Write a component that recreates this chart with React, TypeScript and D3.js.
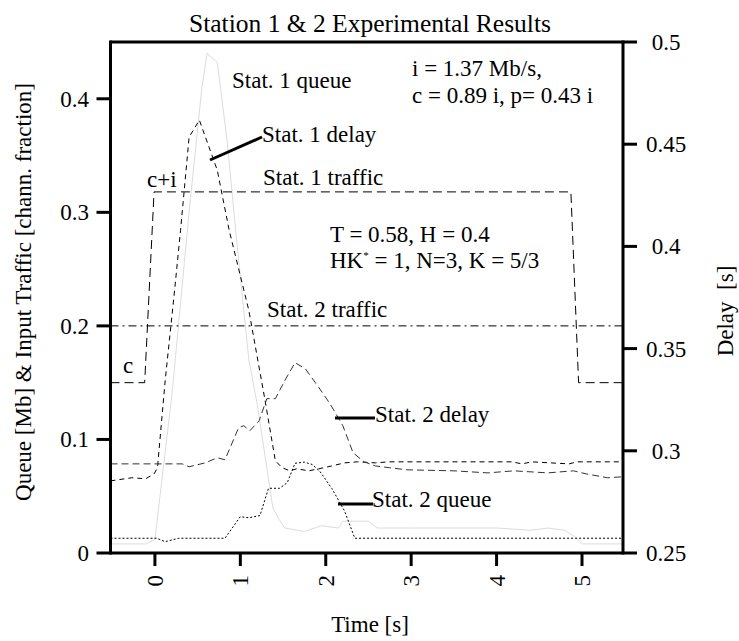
import React from "react";
import * as d3 from "d3";

// ---- data ----
const timeTicks = [0, 1, 2, 3, 4, 5];
const leftTicks = [0, 0.1, 0.2, 0.3, 0.4];
const leftTickLabels = ["0", "0.1", "0.2", "0.3", "0.4"];
const rightTicks = [0.25, 0.3, 0.35, 0.4, 0.45, 0.5];
const rightTickLabels = ["0.25", "0.3", "0.35", "0.4", "0.45", "0.5"];

const stat1TrafficT = [-0.52, -0.12, -0.01, 4.87, 4.96, 5.48];
const stat1TrafficV = [0.15, 0.15, 0.318, 0.318, 0.15, 0.15];

const stat2TrafficT = [-0.52, 5.48];
const stat2TrafficV = [0.2, 0.2];

const stat1QueueT = [-0.52, -0.1, 0.0, 0.2, 0.4, 0.55, 0.61, 0.73, 0.85, 0.95, 1.1, 1.2, 1.3, 1.38, 1.45, 1.52, 1.75, 1.95, 2.15, 2.2, 2.5, 2.6, 3.0, 3.5, 4.0, 4.4, 4.6, 4.8, 4.92, 5.0, 5.48];
const stat1QueueV = [0.008, 0.008, 0.012, 0.14, 0.3, 0.41, 0.44, 0.432, 0.36, 0.28, 0.17, 0.13, 0.08, 0.04, 0.03, 0.022, 0.019, 0.024, 0.022, 0.028, 0.028, 0.022, 0.022, 0.022, 0.022, 0.02, 0.022, 0.02, 0.014, 0.008, 0.008];

const stat2QueueT = [-0.52, 0.02, 0.12, 0.28, 0.82, 1.0, 1.1, 1.23, 1.33, 1.46, 1.55, 1.64, 1.75, 1.84, 1.93, 2.07, 2.22, 2.34, 5.48];
const stat2QueueV = [0.013, 0.013, 0.01, 0.013, 0.013, 0.032, 0.031, 0.033, 0.057, 0.057, 0.062, 0.079, 0.08, 0.078, 0.072, 0.057, 0.037, 0.013, 0.013];

const stat1DelayT = [-0.52, -0.27, -0.11, -0.01, 0.03, 0.12, 0.23, 0.3, 0.4, 0.52, 0.73, 0.87, 1.1, 1.29, 1.41, 1.49, 1.58, 1.66, 1.8, 1.92, 2.07, 2.22, 2.37, 2.58, 2.74, 4.18, 4.3, 4.41, 4.85, 4.94, 5.48];
const stat1DelayD = [0.2853, 0.2868, 0.2863, 0.2887, 0.2917, 0.3343, 0.3784, 0.4078, 0.4534, 0.4618, 0.4373, 0.4078, 0.3686, 0.3245, 0.2951, 0.2917, 0.2902, 0.2912, 0.2902, 0.2912, 0.2926, 0.2941, 0.2946, 0.2941, 0.2946, 0.2946, 0.2936, 0.2946, 0.2936, 0.2946, 0.2946];

const stat2DelayT = [-0.52, 0.32, 0.4, 0.59, 0.73, 0.82, 0.98, 1.04, 1.11, 1.22, 1.31, 1.41, 1.52, 1.64, 1.76, 1.92, 2.05, 2.2, 2.32, 2.45, 2.58, 2.75, 2.95, 3.5, 3.9, 4.2, 4.6, 4.9, 5.05, 5.3, 5.48];
const stat2DelayD = [0.2936, 0.2936, 0.2922, 0.2941, 0.2966, 0.2956, 0.3113, 0.3123, 0.3098, 0.3147, 0.3255, 0.3255, 0.3343, 0.3431, 0.3402, 0.3309, 0.323, 0.3123, 0.299, 0.2946, 0.2926, 0.2917, 0.2907, 0.2902, 0.2892, 0.2902, 0.2892, 0.2902, 0.2887, 0.2868, 0.2873];

// ---- layout ----
const W = 739;
const H = 641;
const L = 110.5;
const R = 623;
const T = 42;
const B = 553;
const FONT = "'Liberation Serif', 'Times New Roman', serif";
const FS = 23;

export default function App() {
  const x = d3.scaleLinear().domain([-0.52, 5.48]).range([L, R]);
  const yL = d3.scaleLinear().domain([0, 0.45]).range([B, T]);
  const yR = d3.scaleLinear().domain([0.25, 0.5]).range([B, T]);

  const lineL = (ts: number[], vs: number[]) =>
    d3.line<number>().x((_, i) => x(ts[i])).y((v) => yL(v))(vs) || "";
  const lineR = (ts: number[], vs: number[]) =>
    d3.line<number>().x((_, i) => x(ts[i])).y((v) => yR(v))(vs) || "";

  const txt = { fontFamily: FONT, fontSize: FS, fill: "#000" } as const;

  return (
    <svg width={W} height={H} style={{ position: "absolute", left: 0, top: 0, background: "#fff" }}>
      <rect x={0} y={0} width={W} height={H} fill="#fff" />
      {/* title */}
      <text x={370} y={32} textAnchor="middle" {...txt} fontSize={25.5}>
        Station 1 &amp; 2 Experimental Results
      </text>

      {/* series */}
      <path d={lineL(stat1QueueT, stat1QueueV)} fill="none" stroke="#dcdcdc" strokeWidth={1} />
      <path d={lineL(stat1TrafficT, stat1TrafficV)} fill="none" stroke="#000" strokeWidth={1} strokeDasharray="9,5" />
      <path d={lineL(stat2TrafficT, stat2TrafficV)} fill="none" stroke="#000" strokeWidth={1} strokeDasharray="8,4,2,4" />
      <path d={lineL(stat2QueueT, stat2QueueV)} fill="none" stroke="#000" strokeWidth={1} strokeDasharray="2,2" />
      <path d={lineR(stat1DelayT, stat1DelayD)} fill="none" stroke="#000" strokeWidth={1} strokeDasharray="5,4" />
      <path d={lineR(stat2DelayT, stat2DelayD)} fill="none" stroke="#333" strokeWidth={1} strokeDasharray="7,4" />

      {/* frame */}
      <line x1={L} x2={R} y1={T} y2={T} stroke="#000" strokeWidth={3} />
      <line x1={L} x2={R} y1={B} y2={B} stroke="#000" strokeWidth={3} />
      <line x1={L} x2={L} y1={T - 1.5} y2={B + 1.5} stroke="#000" strokeWidth={3} />
      <line x1={R} x2={R} y1={T - 1.5} y2={B + 1.5} stroke="#000" strokeWidth={3} />

      {/* left axis */}
      {leftTicks.map((v, i) => (
        <g key={"l" + i}>
          <line x1={L - 14} x2={L} y1={yL(v)} y2={yL(v)} stroke="#000" strokeWidth={3} />
          <text x={89} y={yL(v)} dy="0.35em" textAnchor="end" {...txt}>
            {leftTickLabels[i]}
          </text>
        </g>
      ))}

      {/* right axis */}
      {rightTicks.map((v, i) => (
        <g key={"r" + i}>
          <line x1={R} x2={R + 14} y1={yR(v)} y2={yR(v)} stroke="#000" strokeWidth={3} />
          <text x={666} y={yR(v)} dy="0.35em" textAnchor="middle" {...txt}>
            {rightTickLabels[i]}
          </text>
        </g>
      ))}

      {/* bottom axis */}
      {timeTicks.map((t) => (
        <g key={"b" + t}>
          <line x1={x(t)} x2={x(t)} y1={B} y2={B + 13} stroke="#000" strokeWidth={3} />
          <text
            transform={`translate(${x(t)},${575}) rotate(-90)`}
            dy="0.35em"
            textAnchor="end"
            {...txt}
          >
            {String(t)}
          </text>
        </g>
      ))}

      {/* axis titles */}
      <text x={370} y={632} textAnchor="middle" {...txt}>
        Time [s]
      </text>
      <text transform="translate(31,292) rotate(-90)" textAnchor="middle" {...txt}>
        Queue [Mb] &amp; Input Traffic [chann. fraction]
      </text>
      <text transform="translate(733,311) rotate(-90)" textAnchor="middle" {...txt} style={{ whiteSpace: "pre" }}>
        {"Delay  [s]"}
      </text>

      {/* annotations */}
      <text x={232} y={88} {...txt}>Stat. 1 queue</text>
      <text x={412} y={76} {...txt}>i = 1.37 Mb/s,</text>
      <text x={412} y={103} {...txt}>c = 0.89 i, p= 0.43 i</text>
      <text x={262} y={142} {...txt}>Stat. 1 delay</text>
      <line x1={210} y1={160} x2={262} y2={137} stroke="#000" strokeWidth={3} />
      <text x={263} y={185} {...txt}>Stat. 1 traffic</text>
      <text x={147} y={187} {...txt}>c+i</text>
      <text x={330} y={242} {...txt}>T = 0.58, H = 0.4</text>
      <text x={330} y={268} {...txt}>
        HK<tspan fontSize={11} dy={-9}>*</tspan>
        <tspan dy={9}> = 1, N=3, K = 5/3</tspan>
      </text>
      <text x={267} y={317} {...txt}>Stat. 2 traffic</text>
      <text x={123} y={373} {...txt}>c</text>
      <text x={375} y={422} {...txt}>Stat. 2 delay</text>
      <line x1={335} y1={418} x2={375} y2={418} stroke="#000" strokeWidth={3} />
      <text x={372} y={507} {...txt}>Stat. 2 queue</text>
      <line x1={338} y1={504} x2={373} y2={504} stroke="#000" strokeWidth={3} />
    </svg>
  );
}
